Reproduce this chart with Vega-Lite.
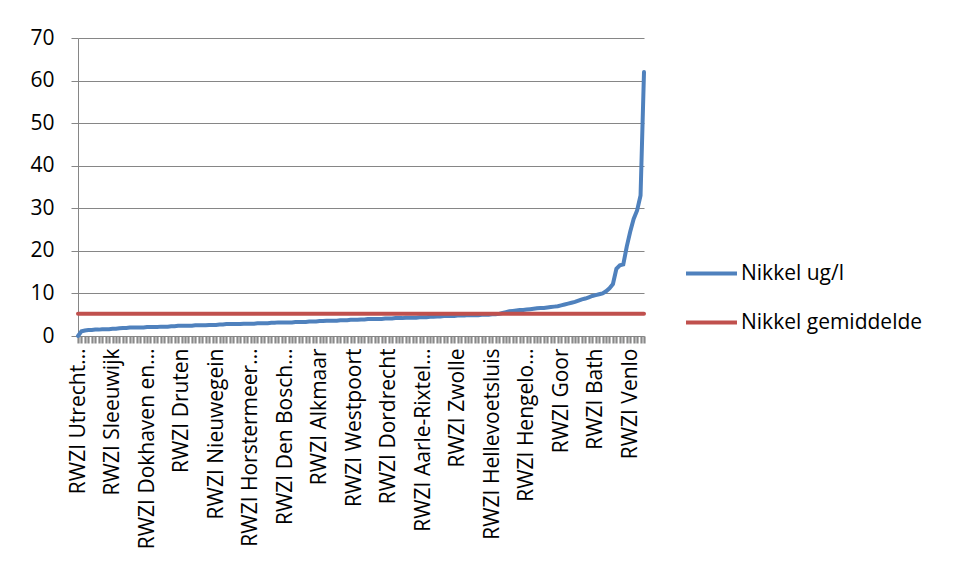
{
  "$schema": "https://vega.github.io/schema/vega-lite/v6.json",
  "width": 566,
  "height": 298,
  "padding": {"left": 29, "top": 27, "right": 10, "bottom": 5},
  "background": "white",
  "config": {
    "view": {"stroke": null},
    "font": "Open Sans"
  },
  "data": {
    "values": [
      {"i":0,"v":0,"s":"Nikkel ug/l"},{"i":1,"v":1.1,"s":"Nikkel ug/l"},{"i":2,"v":1.3,"s":"Nikkel ug/l"},{"i":3,"v":1.4,"s":"Nikkel ug/l"},{"i":4,"v":1.4,"s":"Nikkel ug/l"},{"i":5,"v":1.5,"s":"Nikkel ug/l"},{"i":6,"v":1.5,"s":"Nikkel ug/l"},{"i":7,"v":1.6,"s":"Nikkel ug/l"},{"i":8,"v":1.6,"s":"Nikkel ug/l"},{"i":9,"v":1.6,"s":"Nikkel ug/l"},{"i":10,"v":1.7,"s":"Nikkel ug/l"},{"i":11,"v":1.7,"s":"Nikkel ug/l"},{"i":12,"v":1.8,"s":"Nikkel ug/l"},
      {"i":13,"v":1.9,"s":"Nikkel ug/l"},{"i":14,"v":1.9,"s":"Nikkel ug/l"},{"i":15,"v":2.0,"s":"Nikkel ug/l"},{"i":16,"v":2.0,"s":"Nikkel ug/l"},{"i":17,"v":2.0,"s":"Nikkel ug/l"},{"i":18,"v":2.0,"s":"Nikkel ug/l"},{"i":19,"v":2.0,"s":"Nikkel ug/l"},{"i":20,"v":2.1,"s":"Nikkel ug/l"},{"i":21,"v":2.1,"s":"Nikkel ug/l"},{"i":22,"v":2.1,"s":"Nikkel ug/l"},{"i":23,"v":2.1,"s":"Nikkel ug/l"},{"i":24,"v":2.2,"s":"Nikkel ug/l"},{"i":25,"v":2.2,"s":"Nikkel ug/l"},{"i":26,"v":2.2,"s":"Nikkel ug/l"},{"i":27,"v":2.3,"s":"Nikkel ug/l"},
      {"i":28,"v":2.3,"s":"Nikkel ug/l"},{"i":29,"v":2.4,"s":"Nikkel ug/l"},{"i":30,"v":2.4,"s":"Nikkel ug/l"},{"i":31,"v":2.4,"s":"Nikkel ug/l"},{"i":32,"v":2.4,"s":"Nikkel ug/l"},{"i":33,"v":2.4,"s":"Nikkel ug/l"},{"i":34,"v":2.5,"s":"Nikkel ug/l"},{"i":35,"v":2.5,"s":"Nikkel ug/l"},{"i":36,"v":2.5,"s":"Nikkel ug/l"},{"i":37,"v":2.5,"s":"Nikkel ug/l"},{"i":38,"v":2.6,"s":"Nikkel ug/l"},{"i":39,"v":2.6,"s":"Nikkel ug/l"},{"i":40,"v":2.6,"s":"Nikkel ug/l"},{"i":41,"v":2.7,"s":"Nikkel ug/l"},
      {"i":42,"v":2.7,"s":"Nikkel ug/l"},{"i":43,"v":2.8,"s":"Nikkel ug/l"},{"i":44,"v":2.8,"s":"Nikkel ug/l"},{"i":45,"v":2.8,"s":"Nikkel ug/l"},{"i":46,"v":2.8,"s":"Nikkel ug/l"},{"i":47,"v":2.8,"s":"Nikkel ug/l"},{"i":48,"v":2.9,"s":"Nikkel ug/l"},{"i":49,"v":2.9,"s":"Nikkel ug/l"},{"i":50,"v":2.9,"s":"Nikkel ug/l"},{"i":51,"v":2.9,"s":"Nikkel ug/l"},{"i":52,"v":3.0,"s":"Nikkel ug/l"},{"i":53,"v":3.0,"s":"Nikkel ug/l"},{"i":54,"v":3.0,"s":"Nikkel ug/l"},{"i":55,"v":3.0,"s":"Nikkel ug/l"},{"i":56,"v":3.1,"s":"Nikkel ug/l"},
      {"i":57,"v":3.1,"s":"Nikkel ug/l"},{"i":58,"v":3.2,"s":"Nikkel ug/l"},{"i":59,"v":3.2,"s":"Nikkel ug/l"},{"i":60,"v":3.2,"s":"Nikkel ug/l"},{"i":61,"v":3.2,"s":"Nikkel ug/l"},{"i":62,"v":3.2,"s":"Nikkel ug/l"},{"i":63,"v":3.3,"s":"Nikkel ug/l"},{"i":64,"v":3.3,"s":"Nikkel ug/l"},{"i":65,"v":3.3,"s":"Nikkel ug/l"},{"i":66,"v":3.3,"s":"Nikkel ug/l"},{"i":67,"v":3.4,"s":"Nikkel ug/l"},{"i":68,"v":3.4,"s":"Nikkel ug/l"},{"i":69,"v":3.4,"s":"Nikkel ug/l"},{"i":70,"v":3.5,"s":"Nikkel ug/l"},
      {"i":71,"v":3.5,"s":"Nikkel ug/l"},{"i":72,"v":3.6,"s":"Nikkel ug/l"},{"i":73,"v":3.6,"s":"Nikkel ug/l"},{"i":74,"v":3.6,"s":"Nikkel ug/l"},{"i":75,"v":3.6,"s":"Nikkel ug/l"},{"i":76,"v":3.7,"s":"Nikkel ug/l"},{"i":77,"v":3.7,"s":"Nikkel ug/l"},{"i":78,"v":3.7,"s":"Nikkel ug/l"},{"i":79,"v":3.8,"s":"Nikkel ug/l"},{"i":80,"v":3.8,"s":"Nikkel ug/l"},{"i":81,"v":3.8,"s":"Nikkel ug/l"},
      {"i":82,"v":3.9,"s":"Nikkel ug/l"},{"i":83,"v":3.9,"s":"Nikkel ug/l"},{"i":84,"v":4.0,"s":"Nikkel ug/l"},{"i":85,"v":4.0,"s":"Nikkel ug/l"},{"i":86,"v":4.0,"s":"Nikkel ug/l"},{"i":87,"v":4.0,"s":"Nikkel ug/l"},{"i":88,"v":4.0,"s":"Nikkel ug/l"},{"i":89,"v":4.1,"s":"Nikkel ug/l"},{"i":90,"v":4.1,"s":"Nikkel ug/l"},{"i":91,"v":4.1,"s":"Nikkel ug/l"},{"i":92,"v":4.2,"s":"Nikkel ug/l"},{"i":93,"v":4.2,"s":"Nikkel ug/l"},
      {"i":94,"v":4.2,"s":"Nikkel ug/l"},{"i":95,"v":4.3,"s":"Nikkel ug/l"},{"i":96,"v":4.3,"s":"Nikkel ug/l"},{"i":97,"v":4.3,"s":"Nikkel ug/l"},{"i":98,"v":4.3,"s":"Nikkel ug/l"},{"i":99,"v":4.4,"s":"Nikkel ug/l"},{"i":100,"v":4.4,"s":"Nikkel ug/l"},{"i":101,"v":4.4,"s":"Nikkel ug/l"},{"i":102,"v":4.5,"s":"Nikkel ug/l"},{"i":103,"v":4.5,"s":"Nikkel ug/l"},
      {"i":104,"v":4.6,"s":"Nikkel ug/l"},{"i":105,"v":4.6,"s":"Nikkel ug/l"},{"i":106,"v":4.7,"s":"Nikkel ug/l"},{"i":107,"v":4.7,"s":"Nikkel ug/l"},{"i":108,"v":4.7,"s":"Nikkel ug/l"},{"i":109,"v":4.7,"s":"Nikkel ug/l"},{"i":110,"v":4.8,"s":"Nikkel ug/l"},{"i":111,"v":4.8,"s":"Nikkel ug/l"},
      {"i":112,"v":4.8,"s":"Nikkel ug/l"},{"i":113,"v":4.9,"s":"Nikkel ug/l"},{"i":114,"v":4.9,"s":"Nikkel ug/l"},{"i":115,"v":4.9,"s":"Nikkel ug/l"},{"i":116,"v":4.9,"s":"Nikkel ug/l"},{"i":117,"v":5.0,"s":"Nikkel ug/l"},{"i":118,"v":5.0,"s":"Nikkel ug/l"},{"i":119,"v":5.0,"s":"Nikkel ug/l"},{"i":120,"v":5.1,"s":"Nikkel ug/l"},{"i":121,"v":5.1,"s":"Nikkel ug/l"},{"i":122,"v":5.2,"s":"Nikkel ug/l"},
      {"i":123,"v":5.4,"s":"Nikkel ug/l"},{"i":124,"v":5.6,"s":"Nikkel ug/l"},
      {"i":125,"v":5.8,"s":"Nikkel ug/l"},{"i":126,"v":5.9,"s":"Nikkel ug/l"},{"i":127,"v":6.0,"s":"Nikkel ug/l"},{"i":128,"v":6.1,"s":"Nikkel ug/l"},{"i":129,"v":6.1,"s":"Nikkel ug/l"},{"i":130,"v":6.2,"s":"Nikkel ug/l"},{"i":131,"v":6.3,"s":"Nikkel ug/l"},{"i":132,"v":6.4,"s":"Nikkel ug/l"},
      {"i":133,"v":6.5,"s":"Nikkel ug/l"},{"i":134,"v":6.6,"s":"Nikkel ug/l"},{"i":135,"v":6.6,"s":"Nikkel ug/l"},{"i":136,"v":6.7,"s":"Nikkel ug/l"},{"i":137,"v":6.8,"s":"Nikkel ug/l"},{"i":138,"v":6.9,"s":"Nikkel ug/l"},{"i":139,"v":7.0,"s":"Nikkel ug/l"},{"i":140,"v":7.2,"s":"Nikkel ug/l"},
      {"i":141,"v":7.4,"s":"Nikkel ug/l"},{"i":142,"v":7.6,"s":"Nikkel ug/l"},{"i":143,"v":7.8,"s":"Nikkel ug/l"},{"i":144,"v":8.0,"s":"Nikkel ug/l"},{"i":145,"v":8.3,"s":"Nikkel ug/l"},
      {"i":146,"v":8.6,"s":"Nikkel ug/l"},{"i":147,"v":8.8,"s":"Nikkel ug/l"},{"i":148,"v":9.1,"s":"Nikkel ug/l"},
      {"i":149,"v":9.4,"s":"Nikkel ug/l"},{"i":150,"v":9.6,"s":"Nikkel ug/l"},{"i":151,"v":9.8,"s":"Nikkel ug/l"},{"i":152,"v":10.0,"s":"Nikkel ug/l"},
      {"i":153,"v":10.5,"s":"Nikkel ug/l"},{"i":154,"v":11.2,"s":"Nikkel ug/l"},{"i":155,"v":12.2,"s":"Nikkel ug/l"},
      {"i":156,"v":15.8,"s":"Nikkel ug/l"},{"i":157,"v":16.6,"s":"Nikkel ug/l"},{"i":158,"v":16.8,"s":"Nikkel ug/l"},{"i":159,"v":21.0,"s":"Nikkel ug/l"},{"i":160,"v":24.5,"s":"Nikkel ug/l"},{"i":161,"v":27.5,"s":"Nikkel ug/l"},{"i":162,"v":29.5,"s":"Nikkel ug/l"},{"i":163,"v":33.0,"s":"Nikkel ug/l"},{"i":164,"v":62.0,"s":"Nikkel ug/l"},
      {"i":0,"v":5.2,"s":"Nikkel gemiddelde"},{"i":164,"v":5.2,"s":"Nikkel gemiddelde"}
    ]
  },
  "mark": {"type": "line", "strokeWidth": 4, "strokeCap": "round", "interpolate": "linear"},
  "encoding": {
    "x": {
      "field": "i",
      "type": "quantitative",
      "scale": {"domain": [0, 164], "nice": false, "zero": false},
      "axis": {
        "title": null,
        "values": [0,1,2,3,4,5,6,7,8,9,10,11,12,13,14,15,16,17,18,19,20,21,22,23,24,25,26,27,28,29,30,31,32,33,34,35,36,37,38,39,40,41,42,43,44,45,46,47,48,49,50,51,52,53,54,55,56,57,58,59,60,61,62,63,64,65,66,67,68,69,70,71,72,73,74,75,76,77,78,79,80,81,82,83,84,85,86,87,88,89,90,91,92,93,94,95,96,97,98,99,100,101,102,103,104,105,106,107,108,109,110,111,112,113,114,115,116,117,118,119,120,121,122,123,124,125,126,127,128,129,130,131,132,133,134,135,136,137,138,139,140,141,142,143,144,145,146,147,148,149,150,151,152,153,154,155,156,157,158,159,160,161,162,163,164],
        "grid": false,
        "domainColor": "#868686",
        "ticks": true,
        "tickColor": "#8a8a8a",
        "tickWidth": 2.2,
        "tickSize": 7,
        "tickOpacity": 1,
        "labelAngle": -90,
        "labelOverlap": false,
        "labelLimit": 0,
        "labelPadding": 5,
        "labelFontSize": 21,
        "labelColor": "#000000",
        "labelExpr": "datum.value % 10 === 0 ? ['RWZI Utrecht…','RWZI Sleeuwijk','RWZI Dokhaven en…','RWZI Druten','RWZI Nieuwegein','RWZI Horstermeer…','RWZI Den Bosch…','RWZI Alkmaar','RWZI Westpoort','RWZI Dordrecht','RWZI Aarle-Rixtel…','RWZI Zwolle','RWZI Hellevoetsluis','RWZI Hengelo…','RWZI Goor','RWZI Bath','RWZI Venlo'][datum.value / 10] : ''"
      }
    },
    "y": {
      "field": "v",
      "type": "quantitative",
      "scale": {"domain": [0, 70], "nice": false},
      "axis": {
        "title": null,
        "values": [0, 10, 20, 30, 40, 50, 60, 70],
        "grid": true,
        "gridColor": "#868686",
        "gridWidth": 1,
        "domainColor": "#868686",
        "tickColor": "#868686",
        "tickSize": 7,
        "labelPadding": 17,
        "labelFontSize": 21,
        "labelColor": "#000000"
      }
    },
    "color": {
      "field": "s",
      "type": "nominal",
      "scale": {"domain": ["Nikkel ug/l", "Nikkel gemiddelde"], "range": ["#4f81bd", "#c0504d"]},
      "legend": {
        "title": null,
        "orient": "none",
        "legendX": 606,
        "legendY": 208,
        "symbolType": "stroke",
        "symbolSize": 2600,
        "symbolStrokeWidth": 4,
        "labelFontSize": 21,
        "labelLimit": 0,
        "labelColor": "#000000",
        "labelOffset": 2,
        "rowPadding": 11
      }
    }
  }
}
